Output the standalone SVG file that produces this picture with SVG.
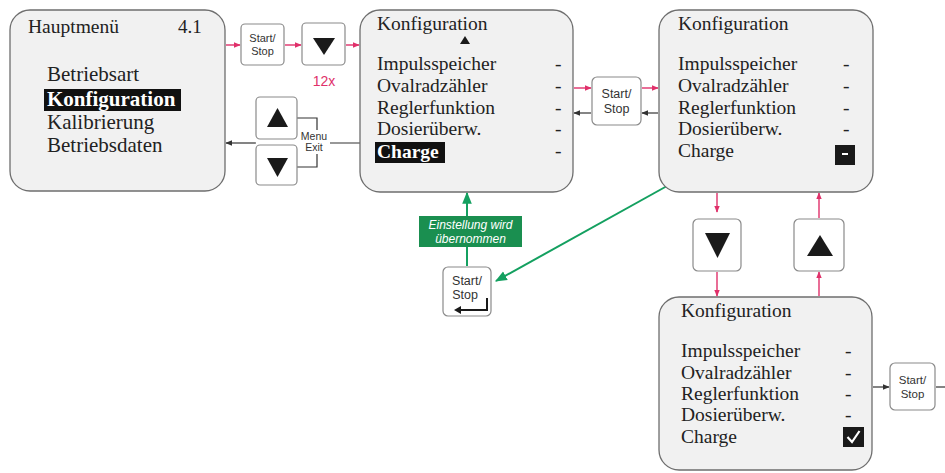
<svg xmlns="http://www.w3.org/2000/svg" width="945" height="473" viewBox="0 0 945 473">
<defs>
<style>
.panel{fill:#f1f1f1;stroke:#6e6e6e;stroke-width:1.3}
.btn{fill:#ffffff;stroke:#8a8a8a;stroke-width:1.2}
.serif{font-family:"Liberation Serif","Times New Roman",serif;fill:#222}
.sans{font-family:"Liberation Sans",Arial,sans-serif;fill:#333}
.tri{fill:#1a1a1a}
.red{stroke:#e0306a;stroke-width:1.4;fill:none}
.dark{stroke:#333;stroke-width:1.2;fill:none}
.green{stroke:#14a060;stroke-width:2;fill:none}
</style>
<marker id="ar" viewBox="0 0 10 10" refX="9" refY="5" markerWidth="7" markerHeight="7" orient="auto" markerUnits="userSpaceOnUse"><path d="M0,1 L10,5 L0,9 z" fill="#e0306a"/></marker>
<marker id="ad" viewBox="0 0 10 10" refX="9" refY="5" markerWidth="7" markerHeight="7" orient="auto" markerUnits="userSpaceOnUse"><path d="M0,1 L10,5 L0,9 z" fill="#333"/></marker>
<marker id="ag" viewBox="0 0 10 10" refX="9" refY="5" markerWidth="12" markerHeight="12" orient="auto" markerUnits="userSpaceOnUse"><path d="M0,1 L10,5 L0,9 z" fill="#14a060"/></marker>
</defs>
<rect width="945" height="473" fill="#ffffff"/>

<g id="connectors">
<line class="red" x1="226" y1="45" x2="240" y2="45" marker-end="url(#ar)"/>
<line class="red" x1="285" y1="45" x2="301" y2="45" marker-end="url(#ar)"/>
<line class="red" x1="346" y1="45" x2="359" y2="45" marker-end="url(#ar)"/>
<line class="dark" x1="360" y1="143" x2="318" y2="143" marker-end="url(#ad)"/>
<line class="dark" x1="256" y1="143" x2="226" y2="143" marker-end="url(#ad)"/>
<path class="dark" d="M297,118 H317 V167 H297"/>
<line class="red" x1="574" y1="88" x2="591" y2="88" marker-end="url(#ar)"/>
<line class="red" x1="642" y1="88" x2="658" y2="88" marker-end="url(#ar)"/>
<line class="dark" x1="658" y1="113" x2="642" y2="113" marker-end="url(#ad)"/>
<line class="dark" x1="591" y1="113" x2="574" y2="113" marker-end="url(#ad)"/>
<line class="red" x1="717" y1="193" x2="717" y2="212" marker-end="url(#ar)"/>
<line class="red" x1="717" y1="272" x2="717" y2="296" marker-end="url(#ar)"/>
<line class="red" x1="819" y1="296" x2="819" y2="272" marker-end="url(#ar)"/>
<line class="red" x1="819" y1="218" x2="819" y2="193" marker-end="url(#ar)"/>
<line class="dark" x1="873" y1="387" x2="889" y2="387" marker-end="url(#ad)"/>
<line class="dark" x1="936" y1="387" x2="945" y2="387"/>
<line class="green" x1="467" y1="266" x2="467" y2="193" marker-end="url(#ag)"/>
<line class="green" x1="667" y1="186" x2="496" y2="281" marker-end="url(#ag)"/>
</g>

<g id="panel-hauptmenue">
<rect class="panel" x="10" y="10" width="215" height="181" rx="20"/>
<text class="serif" x="28" y="33" font-size="19.5">Hauptmenü</text>
<text class="serif" x="178" y="33" font-size="19">4.1</text>
<text class="serif" x="47" y="81" font-size="21">Betriebsart</text>
<rect x="44" y="89" width="137" height="22" fill="#111"/>
<text class="serif" x="47" y="106" font-size="21" font-weight="bold" style="fill:#fff">Konfiguration</text>
<text class="serif" x="47" y="129" font-size="21">Kalibrierung</text>
<text class="serif" x="47" y="152" font-size="21">Betriebsdaten</text>
</g>

<g id="btn-startstop-1">
<rect class="btn" x="241" y="24" width="43" height="41" rx="4"/>
<text class="sans" x="262.5" y="42" font-size="11" text-anchor="middle">Start/</text>
<text class="sans" x="262.5" y="55" font-size="11" text-anchor="middle">Stop</text>
</g>

<g id="btn-down-1">
<rect class="btn" x="302" y="23" width="43" height="42" rx="4"/>
<path class="tri" d="M313,38 H335 L324,55 z"/>
<text class="sans" x="324" y="86" font-size="14" text-anchor="middle" style="fill:#e0306a">12x</text>
</g>

<g id="btn-up-menu">
<rect class="btn" x="256" y="97" width="41" height="42" rx="4"/>
<path class="tri" d="M267,127 H288 L277.5,108 z"/>
</g>
<g id="btn-down-menu">
<rect class="btn" x="256" y="145" width="41" height="40" rx="4"/>
<path class="tri" d="M267,158 H288 L277.5,177 z"/>
</g>
<g id="label-menu-exit">
<rect x="299" y="130" width="31" height="24" fill="#fff"/>
<text class="sans" x="314" y="140" font-size="10.5" text-anchor="middle">Menu</text>
<text class="sans" x="314" y="151" font-size="10.5" text-anchor="middle">Exit</text>
</g>

<g id="panel-konfig-1">
<rect class="panel" x="360" y="10" width="213" height="182" rx="20"/>
<text class="serif" x="377" y="30" font-size="19.5">Konfiguration</text>
<path class="tri" d="M460,44 H470 L465,36 z"/>
<text class="serif" x="377" y="70" font-size="19.5">Impulsspeicher</text>
<text class="serif" x="377" y="92" font-size="19.5">Ovalradzähler</text>
<text class="serif" x="377" y="114" font-size="19.5">Reglerfunktion</text>
<text class="serif" x="377" y="135" font-size="19.5">Dosierüberw.</text>
<rect x="375" y="142" width="70" height="21" fill="#111"/>
<text class="serif" x="377" y="158" font-size="19.5" font-weight="bold" style="fill:#fff">Charge</text>
<text class="serif" x="555" y="70" font-size="19.5">-</text>
<text class="serif" x="555" y="92" font-size="19.5">-</text>
<text class="serif" x="555" y="114" font-size="19.5">-</text>
<text class="serif" x="555" y="135" font-size="19.5">-</text>
<text class="serif" x="555" y="157" font-size="19.5">-</text>
</g>

<g id="btn-startstop-2">
<rect class="btn" x="592" y="77" width="49" height="48" rx="5"/>
<text class="sans" x="616.5" y="98" font-size="12.5" text-anchor="middle">Start/</text>
<text class="sans" x="616.5" y="113" font-size="12.5" text-anchor="middle">Stop</text>
</g>

<g id="panel-konfig-2">
<rect class="panel" x="659" y="10" width="214" height="182" rx="20"/>
<text class="serif" x="678" y="30" font-size="19.5">Konfiguration</text>
<text class="serif" x="678" y="70" font-size="19.5">Impulsspeicher</text>
<text class="serif" x="678" y="92" font-size="19.5">Ovalradzähler</text>
<text class="serif" x="678" y="114" font-size="19.5">Reglerfunktion</text>
<text class="serif" x="678" y="135" font-size="19.5">Dosierüberw.</text>
<text class="serif" x="678" y="157" font-size="19.5">Charge</text>
<text class="serif" x="843" y="70" font-size="19.5">-</text>
<text class="serif" x="843" y="92" font-size="19.5">-</text>
<text class="serif" x="843" y="114" font-size="19.5">-</text>
<text class="serif" x="843" y="135" font-size="19.5">-</text>
<rect x="835" y="145" width="20" height="20" fill="#1a1a1a"/>
<rect x="842" y="153" width="6" height="2" fill="#fff"/>
</g>

<g id="btn-down-2">
<rect class="btn" x="693" y="219" width="48" height="52" rx="5"/>
<path class="tri" d="M705,233 H730 L717.5,258 z"/>
</g>
<g id="btn-up-2">
<rect class="btn" x="794" y="219" width="50" height="52" rx="5"/>
<path class="tri" d="M807,256 H833 L820,235 z"/>
</g>

<g id="panel-konfig-3">
<rect class="panel" x="659" y="297" width="213" height="173" rx="20"/>
<text class="serif" x="681" y="317" font-size="19.5">Konfiguration</text>
<text class="serif" x="681" y="357" font-size="19.5">Impulsspeicher</text>
<text class="serif" x="681" y="379" font-size="19.5">Ovalradzähler</text>
<text class="serif" x="681" y="400" font-size="19.5">Reglerfunktion</text>
<text class="serif" x="681" y="421" font-size="19.5">Dosierüberw.</text>
<text class="serif" x="681" y="443" font-size="19.5">Charge</text>
<text class="serif" x="845" y="357" font-size="19.5">-</text>
<text class="serif" x="845" y="379" font-size="19.5">-</text>
<text class="serif" x="845" y="400" font-size="19.5">-</text>
<text class="serif" x="845" y="421" font-size="19.5">-</text>
<rect x="843" y="427" width="21" height="20" fill="#1a1a1a"/>
<path d="M847.5,437 L852,442 L859.5,431" fill="none" stroke="#fff" stroke-width="2.2"/>
</g>

<g id="btn-startstop-3">
<rect class="btn" x="890" y="363" width="45" height="47" rx="5"/>
<text class="sans" x="912.5" y="384" font-size="11.5" text-anchor="middle">Start/</text>
<text class="sans" x="912.5" y="398" font-size="11.5" text-anchor="middle">Stop</text>
</g>

<g id="label-uebernommen">
<rect x="419" y="216" width="103" height="31" fill="#1a8f50"/>
<text class="sans" x="470.5" y="229" font-size="12" font-style="italic" text-anchor="middle" style="fill:#fff">Einstellung wird</text>
<text class="sans" x="470.5" y="243" font-size="12" font-style="italic" text-anchor="middle" style="fill:#fff">übernommen</text>
</g>

<g id="btn-startstop-enter">
<rect class="btn" x="443" y="267" width="48" height="49" rx="5"/>
<text class="sans" x="467" y="285" font-size="12.5" text-anchor="middle">Start/</text>
<text class="sans" x="465" y="299" font-size="12.5" text-anchor="middle">Stop</text>
<path d="M487,298 V310 H459" fill="none" stroke="#1a1a1a" stroke-width="2"/>
<path d="M454,310 L461,306 L461,314 z" fill="#1a1a1a"/>
</g>
</svg>
